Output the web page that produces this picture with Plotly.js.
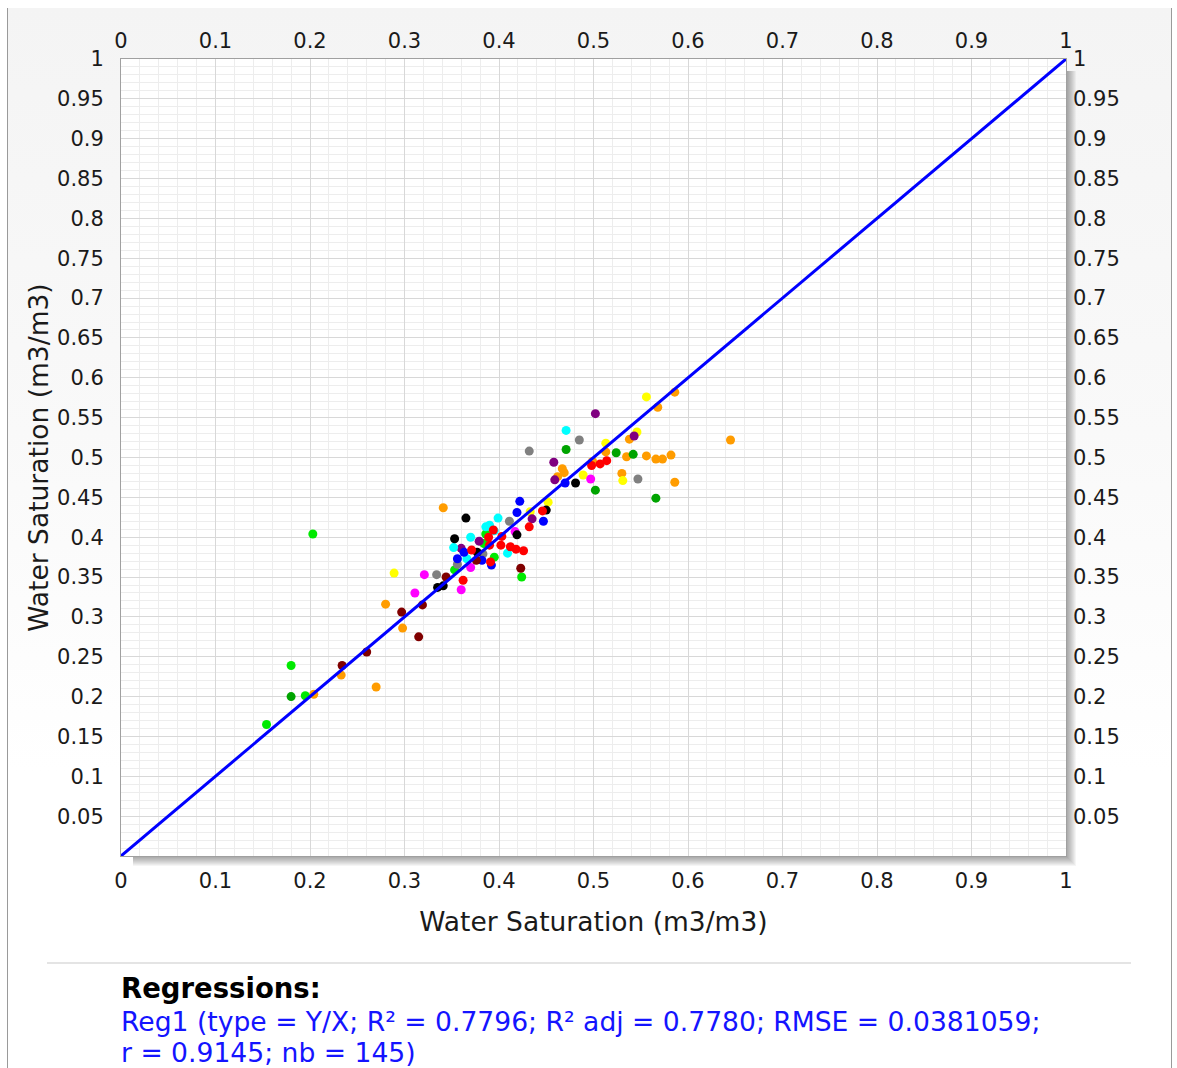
<!DOCTYPE html>
<html>
<head>
<meta charset="utf-8">
<script src="https://cdn.plot.ly/plotly-3.0.1.min.js"></script>
<style>
  html, body { margin: 0; padding: 0; background: #ffffff; }
  #frame { position: absolute; left: 7px; top: 8px; width: 1163px; height: 1060px;
           border-left: 1px solid #9a9a9a; border-right: 1px solid #9a9a9a;
           background: linear-gradient(to bottom, #f4f4f4 0%, #f9f9f9 40%, #ffffff 72%, #ffffff 100%); }
  #chart { position: absolute; left: 0; top: 0; width: 1177px; height: 1068px; }
</style>
</head>
<body>
<div id="frame"></div>
<div id="chart"></div>
<script>
// ---- Data ----
const xTickVals = [0, 0.1, 0.2, 0.3, 0.4, 0.5, 0.6, 0.7, 0.8, 0.9, 1];
const xTickText = ["0", "0.1", "0.2", "0.3", "0.4", "0.5", "0.6", "0.7", "0.8", "0.9", "1"];
const yTickVals = [0.05, 0.1, 0.15, 0.2, 0.25, 0.3, 0.35, 0.4, 0.45, 0.5, 0.55, 0.6, 0.65, 0.7, 0.75, 0.8, 0.85, 0.9, 0.95, 1];
const yTickText = ["0.05", "0.1", "0.15", "0.2", "0.25", "0.3", "0.35", "0.4", "0.45", "0.5", "0.55", "0.6", "0.65", "0.7", "0.75", "0.8", "0.85", "0.9", "0.95", "1"];

const orangeX = [0.204, 0.233, 0.270, 0.280, 0.298, 0.341, 0.467, 0.469, 0.462, 0.499, 0.513, 0.538, 0.535, 0.556, 0.566, 0.573, 0.582, 0.530, 0.586, 0.568, 0.586, 0.645];
const orangeY = [0.203, 0.227, 0.212, 0.316, 0.286, 0.437, 0.486, 0.481, 0.476, 0.495, 0.507, 0.523, 0.501, 0.502, 0.498, 0.498, 0.503, 0.480, 0.469, 0.563, 0.582, 0.522];
const yellowX = [0.289, 0.452, 0.433, 0.489, 0.513, 0.546, 0.531, 0.556];
const yellowY = [0.355, 0.444, 0.432, 0.478, 0.518, 0.532, 0.471, 0.576];
const limeX = [0.154, 0.180, 0.195, 0.203, 0.353, 0.384, 0.386, 0.395, 0.424];
const limeY = [0.165, 0.239, 0.201, 0.404, 0.359, 0.392, 0.404, 0.375, 0.350];
const greenX = [0.180, 0.471, 0.524, 0.542, 0.502, 0.566];
const greenY = [0.200, 0.510, 0.506, 0.504, 0.459, 0.449];
const grayX = [0.334, 0.356, 0.383, 0.411, 0.432, 0.485, 0.547];
const grayY = [0.353, 0.366, 0.379, 0.420, 0.508, 0.522, 0.473];
const purpleX = [0.360, 0.379, 0.435, 0.458, 0.459, 0.502, 0.543];
const purpleY = [0.386, 0.395, 0.423, 0.494, 0.472, 0.555, 0.527];
const magentaX = [0.311, 0.321, 0.360, 0.370, 0.417, 0.497];
const magentaY = [0.330, 0.353, 0.334, 0.362, 0.407, 0.473];
const cyanX = [0.352, 0.370, 0.366, 0.386, 0.390, 0.399, 0.395, 0.409, 0.471];
const cyanY = [0.387, 0.400, 0.373, 0.413, 0.415, 0.424, 0.408, 0.380, 0.534];
const blueX = [0.356, 0.392, 0.419, 0.422, 0.447, 0.470, 0.363, 0.382];
const blueY = [0.373, 0.365, 0.431, 0.445, 0.420, 0.468, 0.381, 0.371];
const blackX = [0.335, 0.341, 0.353, 0.365, 0.377, 0.419, 0.450, 0.481];
const blackY = [0.337, 0.339, 0.398, 0.424, 0.381, 0.403, 0.434, 0.468];
const maroonX = [0.234, 0.260, 0.297, 0.319, 0.315, 0.344, 0.423, 0.376];
const maroonY = [0.239, 0.256, 0.306, 0.315, 0.275, 0.350, 0.361, 0.371];
const redX = [0.362, 0.371, 0.389, 0.394, 0.390, 0.402, 0.391, 0.412, 0.418, 0.426, 0.403, 0.432, 0.446, 0.498, 0.507, 0.514];
const redY = [0.346, 0.384, 0.400, 0.409, 0.390, 0.390, 0.369, 0.388, 0.385, 0.383, 0.401, 0.413, 0.433, 0.490, 0.492, 0.496];

const regLineX = [0, 1];
const regLineY = [0, 1];

const axisTitle = "Water Saturation (m3/m3)";
const regHeader = "Regressions:";
const regLine1 = "Reg1 (type = Y/X; R² = 0.7796; R² adj = 0.7780; RMSE = 0.0381059;";
const regLine2 = "r = 0.9145; nb = 145)";

// ---- Build ----
const groups = [
  [orangeX, orangeY, '#ff9c00'],
  [yellowX, yellowY, '#ffff00'],
  [limeX, limeY, '#00ea00'],
  [greenX, greenY, '#00a400'],
  [grayX, grayY, '#808080'],
  [purpleX, purpleY, '#800080'],
  [magentaX, magentaY, '#ff00ff'],
  [cyanX, cyanY, '#00ffff'],
  [blueX, blueY, '#0000ff'],
  [blackX, blackY, '#000000'],
  [maroonX, maroonY, '#800000'],
  [redX, redY, '#ff0000']
];

const traces = groups.map(g => ({
  type: 'scatter', mode: 'markers', x: g[0], y: g[1],
  marker: { color: g[2], size: 9, line: { width: 0 } },
  showlegend: false, hoverinfo: 'x+y'
}));

traces.push({
  type: 'scatter', mode: 'lines', x: regLineX, y: regLineY,
  xaxis: 'x2', yaxis: 'y2',
  line: { color: '#0000ff', width: 3 }, showlegend: false, hoverinfo: 'skip'
});

const W = 945, H = 797;
const shapes = [];
for (let i = 1; i <= 10; i++) {
  shapes.push({ type: 'rect', xref: 'paper', yref: 'paper', layer: 'below',
    x0: 1, x1: 1 + i / W, y0: -i / H, y1: 1 - 12 / H,
    fillcolor: 'rgba(0,0,0,0.04)', line: { width: 0 } });
  shapes.push({ type: 'rect', xref: 'paper', yref: 'paper', layer: 'below',
    x0: 12 / W, x1: 1, y0: -i / H, y1: 0,
    fillcolor: 'rgba(0,0,0,0.04)', line: { width: 0 } });
}
// separator line above the regressions text
shapes.push({ type: 'line', xref: 'paper', yref: 'paper',
  x0: (47 - 121) / W, x1: (1131 - 121) / W, y0: (856 - 963) / H, y1: (856 - 963) / H,
  line: { color: '#e4e4e4', width: 2 } });

const tickFont = { family: 'DejaVu Sans, Verdana, sans-serif', size: 21, color: '#1a1a1a' };
const titleFont = { family: 'DejaVu Sans, Verdana, sans-serif', size: 26.5, color: '#1a1a1a' };
const gridMajor = '#d8d8d8';
const gridMinor = '#ededed';
const noteFamily = 'DejaVu Sans, Verdana, sans-serif';

const layout = {
  width: 1177, height: 1068,
  margin: { l: 121, r: 111, t: 59, b: 212 },
  paper_bgcolor: 'rgba(0,0,0,0)',
  plot_bgcolor: '#ffffff',
  showlegend: false,
  xaxis: {
    range: [0, 1], tickmode: 'array', tickvals: xTickVals, ticktext: xTickText,
    showgrid: true, gridcolor: gridMajor, gridwidth: 1, zeroline: false,
    showline: true, linecolor: '#a0a0a0', linewidth: 1, mirror: true,
    ticks: '', tickfont: tickFont, ticklabelstandoff: 6,
    minor: { tickmode: 'linear', tick0: 0, dtick: 0.02, showgrid: true, gridcolor: gridMinor, gridwidth: 1, ticks: '' },
    title: { text: axisTitle, font: titleFont, standoff: 20 },
    automargin: false, fixedrange: true
  },
  yaxis: {
    range: [0, 1], tickmode: 'array', tickvals: yTickVals, ticktext: yTickText,
    showgrid: true, gridcolor: gridMajor, gridwidth: 1, zeroline: false,
    showline: true, linecolor: '#a0a0a0', linewidth: 1, mirror: true,
    ticks: '', tickfont: tickFont, ticklabelstandoff: 12,
    minor: { tickmode: 'linear', tick0: 0, dtick: 0.01, showgrid: true, gridcolor: gridMinor, gridwidth: 1, ticks: '' },
    title: { text: axisTitle, font: titleFont, standoff: 0 },
    automargin: false, fixedrange: true
  },
  xaxis2: {
    overlaying: 'x', side: 'top', anchor: 'y2', range: [0, 1],
    tickmode: 'array', tickvals: xTickVals, ticktext: xTickText,
    showgrid: false, zeroline: false, showline: false, ticks: '',
    tickfont: tickFont, ticklabelstandoff: 6, automargin: false, fixedrange: true
  },
  yaxis2: {
    overlaying: 'y', side: 'right', anchor: 'x2', range: [0, 1],
    tickmode: 'array', tickvals: yTickVals, ticktext: yTickText,
    showgrid: false, zeroline: false, showline: false, ticks: '',
    tickfont: tickFont, ticklabelstandoff: 6, automargin: false, fixedrange: true
  },
  shapes: shapes,
  annotations: [
    { xref: 'paper', yref: 'paper', x: -1 / W, y: (856 - 988) / H, xanchor: 'left', yanchor: 'middle',
      text: '<b>' + regHeader + '</b>', showarrow: false, borderpad: 0,
      font: { family: noteFamily, size: 27.5, color: '#000000' } },
    { xref: 'paper', yref: 'paper', x: -1 / W, y: (856 - 1021) / H, xanchor: 'left', yanchor: 'middle',
      text: regLine1, showarrow: false, borderpad: 0,
      font: { family: noteFamily, size: 26.6, color: '#1414ff' } },
    { xref: 'paper', yref: 'paper', x: -1 / W, y: (856 - 1052) / H, xanchor: 'left', yanchor: 'middle',
      text: regLine2, showarrow: false, borderpad: 0,
      font: { family: noteFamily, size: 26.6, color: '#1414ff' } }
  ]
};

Plotly.newPlot('chart', traces, layout, { displayModeBar: false, responsive: false });
</script>
</body>
</html>
